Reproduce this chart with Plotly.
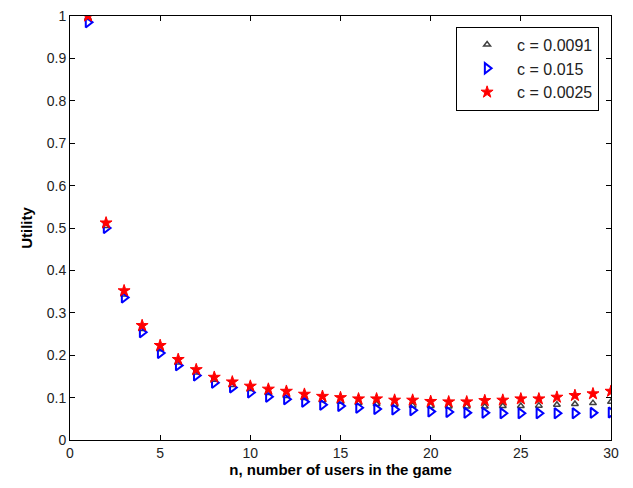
import plotly.graph_objects as go

n = list(range(1, 31))

u_c0091 = [0.995, 0.505, 0.343, 0.262, 0.214, 0.183, 0.159, 0.142, 0.130, 0.120,
           0.111, 0.104, 0.099, 0.094, 0.090, 0.087, 0.085, 0.083, 0.081, 0.080,
           0.079, 0.079, 0.079, 0.080, 0.080, 0.081, 0.083, 0.085, 0.087, 0.090]

u_c015 = [0.985, 0.500, 0.336, 0.254, 0.205, 0.176, 0.152, 0.135, 0.124, 0.112,
          0.102, 0.096, 0.090, 0.083, 0.080, 0.076, 0.073, 0.072, 0.070, 0.067,
          0.066, 0.064, 0.064, 0.063, 0.063, 0.063, 0.063, 0.063, 0.064, 0.065]

u_c0025 = [1.000, 0.512, 0.352, 0.270, 0.223, 0.190, 0.166, 0.148, 0.137, 0.127,
           0.120, 0.115, 0.108, 0.103, 0.100, 0.097, 0.097, 0.094, 0.094, 0.091,
           0.090, 0.090, 0.093, 0.094, 0.097, 0.097, 0.101, 0.105, 0.109, 0.115]

x_ticks = [0, 5, 10, 15, 20, 25, 30]
y_ticks = [0, 0.1, 0.2, 0.3, 0.4, 0.5, 0.6, 0.7, 0.8, 0.9, 1]
y_tick_labels = ["0", "0.1", "0.2", "0.3", "0.4", "0.5", "0.6", "0.7", "0.8", "0.9", "1"]

FONT = "Liberation Sans, Arial"

fig = go.Figure()
fig.add_trace(go.Scatter(x=n, y=u_c0091, mode="markers", name="c = 0.0091",
                         marker=dict(symbol="triangle-up-open", size=6, color="#404040",
                                     line=dict(width=1.5, color="#404040"))))
fig.add_trace(go.Scatter(x=n, y=u_c015, mode="markers", name="c = 0.015",
                         marker=dict(symbol="triangle-right-open", size=9, color="#0000ff",
                                     line=dict(width=2, color="#0000ff"))))
fig.add_trace(go.Scatter(x=n, y=u_c0025, mode="markers", name="c = 0.0025",
                         marker=dict(symbol="star", size=9, color="#ff0000",
                                     line=dict(width=1, color="#ff0000"))))

axis_common = dict(showgrid=False, zeroline=False, showline=True, mirror="ticks",
                   linecolor="black", linewidth=1, ticks="inside", ticklen=5,
                   tickcolor="black", automargin=False, ticklabeloverflow="allow",
                   tickfont=dict(family=FONT, size=14, color="#222"))

fig.update_xaxes(range=[0, 30], tickvals=x_ticks, **axis_common,
                 title=dict(text="<b>n, number of users in the game</b>",
                            font=dict(family=FONT, size=15, color="black"),
                            standoff=3))
fig.update_yaxes(range=[0, 1], tickvals=y_ticks, ticktext=y_tick_labels, **axis_common,
                 title=dict(text="<b>Utility</b>",
                            font=dict(family=FONT, size=15, color="black"),
                            standoff=10))

fig.update_layout(
    width=633, height=488,
    margin=dict(l=62, r=30, t=8, b=56),
    plot_bgcolor="white", paper_bgcolor="white",
    font=dict(family=FONT, size=14, color="black"),
    legend=dict(x=0.978, y=0.975, xanchor="right", yanchor="top",
                bgcolor="white", bordercolor="black", borderwidth=1,
                font=dict(family=FONT, size=16, color="#222"),
                itemwidth=50, tracegroupgap=0),
    showlegend=True,
)

fig.write_html("out.html")
